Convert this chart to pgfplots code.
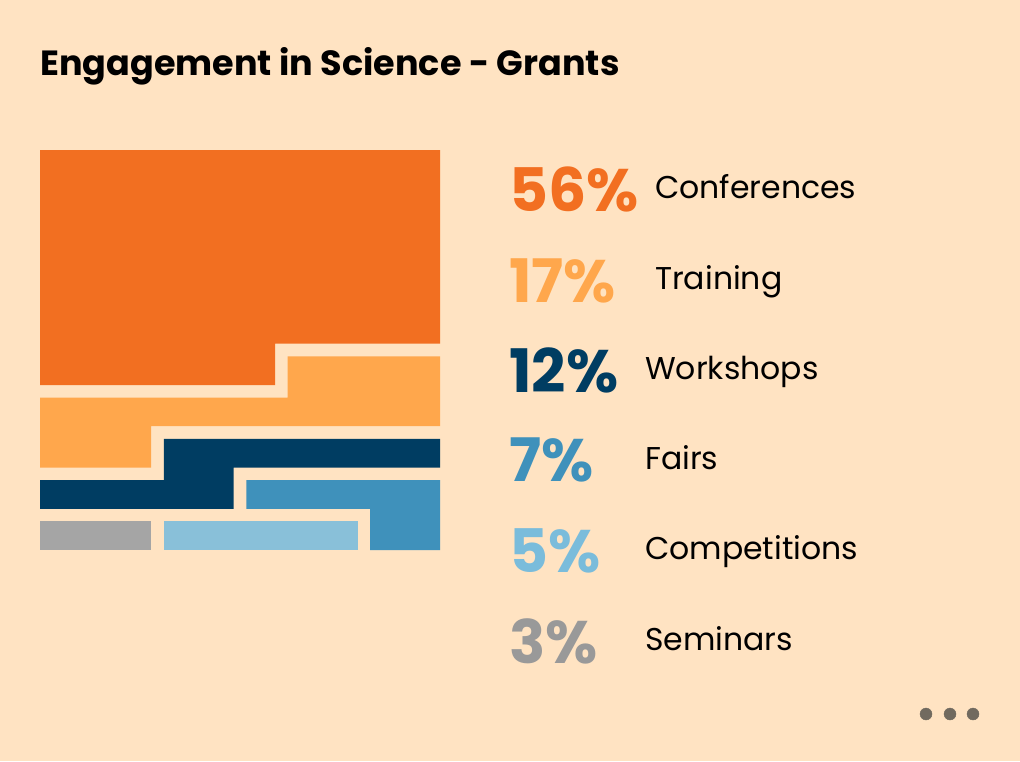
\documentclass[border=0pt]{standalone}
\usepackage{pgfplots}
\pgfplotsset{compat=1.18}
\usepackage{fontspec}
\setmainfont{Poppins}
\definecolor{bg}{HTML}{FFE3C2}
\definecolor{cConf}{HTML}{F26F21}
\definecolor{cTrain}{HTML}{FFA74C}
\definecolor{cWork}{HTML}{003D62}
\definecolor{cFair}{HTML}{3F91BB}
\definecolor{cComp}{HTML}{89C0D9}
\definecolor{cComptxt}{HTML}{7ABCDB}
\definecolor{cSem}{HTML}{A5A5A5}
\definecolor{cSemtxt}{HTML}{999999}
\definecolor{dots}{HTML}{716A5F}
\begin{document}
\begin{tikzpicture}
\begin{axis}[
  scale only axis, width=1020bp, height=761bp,
  xmin=0, xmax=1020, ymin=0, ymax=761, y dir=reverse,
  axis lines=none, ticks=none, clip=false,
  axis background/.style={fill=bg},
]
% background
\addplot[fill=bg, draw=none] coordinates {(0,0) (1020,0) (1020,761) (0,761)} --cycle;
% Conferences 56% : rows 1-5 full + 6 cells of row 6
\addplot[fill=cConf, draw=none] coordinates {(40,150) (440,150) (440,343.7) (275,343.7) (275,385) (40,385)} --cycle;
% Training 17%
\addplot[fill=cTrain, draw=none] coordinates {(287.6,356.4) (440,356.4) (440,426.2) (151.1,426.2) (151.1,467.5) (40,467.5) (40,397.6) (287.6,397.6)} --cycle;
% Workshops 12%
\addplot[fill=cWork, draw=none] coordinates {(163.8,438.9) (440,438.9) (440,467.5) (233.7,467.5) (233.7,508.8) (40,508.8) (40,480.2) (163.8,480.2)} --cycle;
% Fairs 7%
\addplot[fill=cFair, draw=none] coordinates {(246.4,480.2) (440,480.2) (440,550) (370.2,550) (370.2,508.8) (246.4,508.8)} --cycle;
% Competitions 5%
\addplot[fill=cComp, draw=none] coordinates {(163.8,521.4) (357.5,521.4) (357.5,550) (163.8,550)} --cycle;
% Seminars 3%
\addplot[fill=cSem, draw=none] coordinates {(40,521.4) (151.1,521.4) (151.1,550) (40,550)} --cycle;
% dots
\addplot[only marks, mark=*, mark size=6bp, color=dots] coordinates {(926,714) (950,714) (973,714)};

% title
\node[anchor=base west, inner sep=0pt, font=\fontsize{35bp}{40bp}\selectfont\bfseries] at (axis cs:40,76) {Engagement in Science - Grants};

% percentages
\node[anchor=base west, inner sep=0pt, text=cConf, font=\fontsize{60bp}{70bp}\selectfont\bfseries] at (axis cs:509,211.7) {56\%};
\node[anchor=base west, inner sep=0pt, text=cTrain, font=\fontsize{60bp}{70bp}\selectfont\bfseries] at (axis cs:509,302.5) {17\%};
\node[anchor=base west, inner sep=0pt, text=cWork, font=\fontsize{60bp}{70bp}\selectfont\bfseries] at (axis cs:509,392.5) {12\%};
\node[anchor=base west, inner sep=0pt, text=cFair, font=\fontsize{60bp}{70bp}\selectfont\bfseries] at (axis cs:509,481.7) {7\%};
\node[anchor=base west, inner sep=0pt, text=cComptxt, font=\fontsize{60bp}{70bp}\selectfont\bfseries] at (axis cs:509,572.7) {5\%};
\node[anchor=base west, inner sep=0pt, text=cSemtxt, font=\fontsize{60bp}{70bp}\selectfont\bfseries] at (axis cs:509,663) {3\%};

% labels
\node[anchor=base west, inner sep=0pt, font=\fontsize{31.5bp}{36bp}\selectfont] at (axis cs:655,198.5) {Conferences};
\node[anchor=base west, inner sep=0pt, font=\fontsize{31.5bp}{36bp}\selectfont] at (axis cs:655,289.3) {Training};
\node[anchor=base west, inner sep=0pt, font=\fontsize{31.5bp}{36bp}\selectfont] at (axis cs:645,379.5) {Workshops};
\node[anchor=base west, inner sep=0pt, font=\fontsize{31.5bp}{36bp}\selectfont] at (axis cs:645,469) {Fairs};
\node[anchor=base west, inner sep=0pt, font=\fontsize{31.5bp}{36bp}\selectfont] at (axis cs:645,559.8) {Competitions};
\node[anchor=base west, inner sep=0pt, font=\fontsize{31.5bp}{36bp}\selectfont] at (axis cs:645,650) {Seminars};
\end{axis}
\end{tikzpicture}
\end{document}
